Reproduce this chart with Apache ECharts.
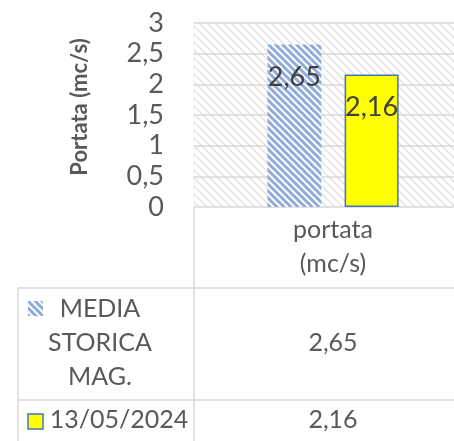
<!DOCTYPE html>
<html>
<head>
<meta charset="utf-8">
<script src="https://cdn.jsdelivr.net/npm/echarts@6/dist/echarts.min.js"></script>
<style>
  html, body { margin: 0; padding: 0; background: #fff; }
  #chart { width: 454px; height: 441px; }
</style>
</head>
<body>
<div id="chart"></div>
<script>
const categories = ['portata\n(mc/s)']
const seriesNames = ['MEDIA\nSTORICA\nMAG.', '13/05/2024']
const mediaStorica = [2.65]
const rilievo = [2.16]

const FONT = 'Lato, "Open Sans", sans-serif'
const GRID_LINE = '#D9D9D9'
const TEXT = '#595959'

function fmt(v) {
  return String(v).replace('.', ',')
}

// diagonal "\" stripes on a small canvas tile
function stripes(size, lineColor, lineWidth, bg) {
  const c = document.createElement('canvas')
  c.width = size
  c.height = size
  const ctx = c.getContext('2d')
  ctx.fillStyle = bg
  ctx.fillRect(0, 0, size, size)
  ctx.strokeStyle = lineColor
  ctx.lineWidth = lineWidth
  ctx.beginPath()
  for (let k = -1; k <= 1; k++) {
    ctx.moveTo(k * size - 1, -1)
    ctx.lineTo(k * size + size + 1, size + 1)
  }
  ctx.stroke()
  return { image: c, repeat: 'repeat' }
}

const bgPattern = stripes(8, '#E2E2E2', 1.5, '#ffffff')
const barPattern = stripes(7, '#8FAADC', 3, '#ffffff')

const chart = echarts.init(document.getElementById('chart'))

// data table below the plot
const tableLines = [
  [194, 207, 194, 441],
  [18, 288, 454, 288],
  [18, 400, 454, 400],
  [18, 288, 18, 441],
]
const graphic = tableLines.map(([x1, y1, x2, y2]) => ({
  type: 'line',
  shape: { x1, y1, x2, y2 },
  style: { stroke: GRID_LINE, lineWidth: 1.5 },
  silent: true,
}))

const rowCenters = [343, 420]
const values = [mediaStorica[0], rilievo[0]]
seriesNames.forEach((name, i) => {
  graphic.push({
    type: 'text',
    x: i === 0 ? 100 : 119,
    y: rowCenters[i],
    style: {
      text: name,
      font: '25px ' + FONT,
      fill: TEXT,
      align: 'center',
      verticalAlign: 'middle',
      lineHeight: 34,
    },
  })
  graphic.push({
    type: 'text',
    x: 333,
    y: rowCenters[i],
    style: {
      text: fmt(values[i]),
      font: '25px ' + FONT,
      fill: TEXT,
      align: 'center',
      verticalAlign: 'middle',
    },
  })
})
graphic.push({
  type: 'rect',
  shape: { x: 28, y: 301, width: 15, height: 15 },
  style: { fill: barPattern },
})
graphic.push({
  type: 'rect',
  shape: { x: 28, y: 414, width: 15, height: 15 },
  style: { fill: '#FFFF00', stroke: '#4472C4', lineWidth: 1.5 },
})

const barLabel = {
  show: true,
  position: 'insideTop',
  distance: 19,
  fontSize: 27,
  color: '#404040',
  formatter: (p) => fmt(p.value),
}

chart.setOption({
  animation: false,
  textStyle: { fontFamily: FONT },
  grid: {
    left: 194,
    top: 23,
    width: 278,
    height: 184,
    containLabel: false,
    outerBoundsMode: 'none',
    show: true,
    backgroundColor: bgPattern,
    borderColor: '#EEEEEE',
    borderWidth: 1,
  },
  xAxis: {
    type: 'category',
    data: categories,
    axisLine: { show: false },
    axisTick: { show: false },
    axisLabel: {
      fontSize: 25,
      color: TEXT,
      lineHeight: 34,
      margin: 6,
    },
  },
  yAxis: {
    type: 'value',
    min: 0,
    max: 3,
    interval: 0.5,
    name: 'Portata (mc/s)',
    nameLocation: 'middle',
    nameGap: 103,
    nameTextStyle: {
      fontSize: 22,
      fontWeight: 'bold',
      color: TEXT,
      padding: [0, 0, 0, 16],
    },
    axisLabel: {
      fontSize: 27,
      color: TEXT,
      margin: 30,
      formatter: fmt,
    },
    splitLine: { lineStyle: { color: GRID_LINE, width: 1.5 } },
  },
  series: [
    {
      name: seriesNames[0],
      type: 'bar',
      data: mediaStorica,
      barWidth: 54,
      barGap: '43%',
      itemStyle: { color: barPattern },
      label: barLabel,
    },
    {
      name: seriesNames[1],
      type: 'bar',
      data: rilievo,
      barWidth: 54,
      itemStyle: { color: '#FFFF00', borderColor: '#4472C4', borderWidth: 1.5 },
      label: barLabel,
    },
  ],
  graphic,
})
</script>
</body>
</html>
